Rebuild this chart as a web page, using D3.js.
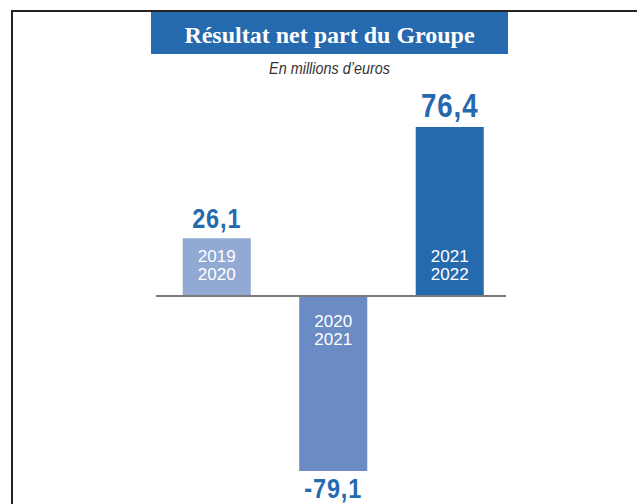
<!DOCTYPE html>
<html>
<head>
<meta charset="utf-8">
<script src="https://cdn.jsdelivr.net/npm/d3@7"></script>
<style>
  body { margin: 0; background: #fff; }
  svg { display: block; }
</style>
</head>
<body>
<div id="chart"></div>
<script>
// data
var periods = ["2019/2020", "2020/2021", "2021/2022"];
var values = [26.1, -79.1, 76.4];
var valueLabels = ["26,1", "-79,1", "76,4"];
var barColors = ["#91a9d3", "#6a8bc3", "#2569ae"];

var width = 637, height = 504;
var blue = "#2569ae";
var sans = "'Liberation Sans', Arial, sans-serif";

var svg = d3.select("#chart").append("svg")
  .attr("width", width)
  .attr("height", height);

// frame (top and left edges)
svg.append("path")
  .attr("d", "M12,504V11H637")
  .attr("fill", "none")
  .attr("stroke", "#222")
  .attr("stroke-width", 2);

// title box
svg.append("rect")
  .attr("x", 151).attr("y", 12)
  .attr("width", 357).attr("height", 42)
  .attr("fill", blue);
svg.append("text")
  .attr("x", 329.5).attr("y", 43)
  .attr("text-anchor", "middle")
  .attr("fill", "#fff")
  .style("font-family", "'Liberation Serif', 'DejaVu Serif', serif")
  .style("font-weight", "bold")
  .style("font-size", "24px")
  .text("Résultat net part du Groupe");
svg.append("text")
  .attr("transform", "translate(329.5,74) scale(0.9,1)")
  .attr("text-anchor", "middle")
  .attr("fill", "#333")
  .style("font-family", sans)
  .style("font-style", "italic")
  .style("font-size", "16px")
  .text("En millions d\u2019euros");

var x = d3.scaleBand()
  .domain(periods)
  .range([158.5, 508])
  .paddingInner(0.416)
  .paddingOuter(0.208);

var y = d3.scaleLinear()
  .domain([-79.1, 76.4])
  .range([471, 127]);

var g = svg.append("g");

g.selectAll(".bar").data(values)
  .enter().append("rect").attr("class", "bar")
    .attr("x", function (d, i) { return x(periods[i]); })
    .attr("y", function (d) { return y(Math.max(0, d)); })
    .attr("width", x.bandwidth())
    .attr("height", function (d) { return Math.abs(y(d) - y(0)); })
    .attr("fill", function (d, i) { return barColors[i]; });

// zero line
svg.append("line")
  .attr("x1", 156).attr("x2", 506)
  .attr("y1", y(0)).attr("y2", y(0))
  .attr("stroke", "#7a7a7a")
  .attr("stroke-width", 2);

// value labels, squeezed to look condensed
g.selectAll(".val").data(values)
  .enter().append("text").attr("class", "val")
    .attr("transform", function (d, i) {
      var cx = x(periods[i]) + x.bandwidth() / 2;
      var ty = d >= 0 ? y(d) - 10 : y(d) + 27;
      return "translate(" + cx + "," + ty + ") scale(0.84,1)";
    })
    .attr("text-anchor", "middle")
    .attr("fill", blue)
    .style("font-family", sans)
    .style("font-weight", "bold")
    .style("font-size", function (d) { return d === d3.max(values) ? "33px" : "28px"; })
    .style("letter-spacing", "1px")
    .text(function (d, i) { return valueLabels[i]; });

// period labels inside bars
g.selectAll(".per").data(values)
  .enter().append("text").attr("class", "per")
    .attr("x", function (d, i) { return x(periods[i]) + x.bandwidth() / 2; })
    .attr("y", function (d) { return d >= 0 ? y(0) - 34 : y(0) + 31; })
    .attr("text-anchor", "middle")
    .attr("fill", "#fff")
    .style("font-family", sans)
    .style("font-size", "17px")
    .each(function (d, i) {
      var parts = periods[i].split("/");
      var t = d3.select(this);
      t.append("tspan").attr("x", t.attr("x")).text(parts[0]);
      t.append("tspan").attr("x", t.attr("x")).attr("dy", 18).text(parts[1]);
    });
</script>
</body>
</html>
